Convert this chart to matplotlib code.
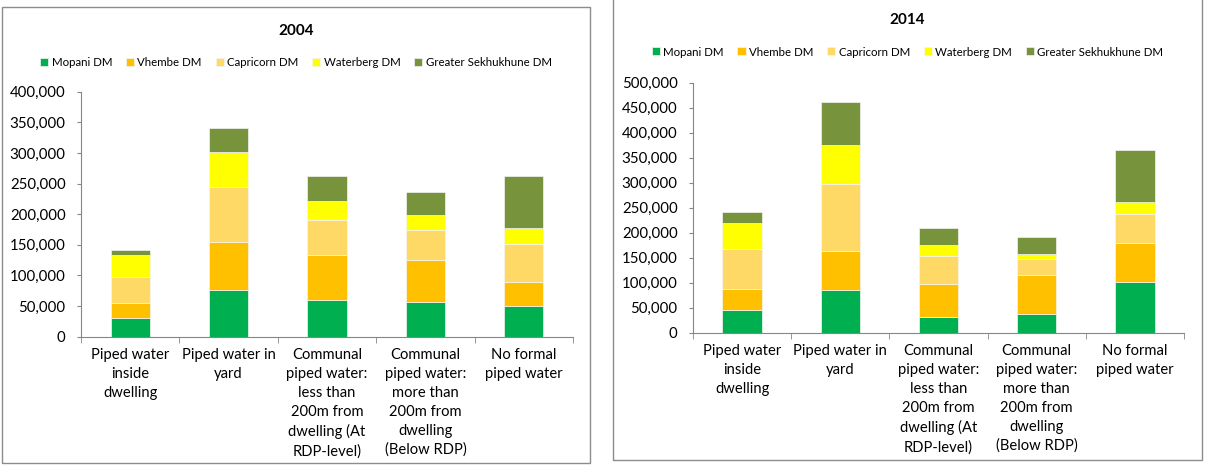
import matplotlib
matplotlib.use("Agg")
import matplotlib.pyplot as plt
from matplotlib.patches import Rectangle
import numpy as np

# categories along x
categories = [
    "Piped water\ninside\ndwelling",
    "Piped water in\nyard",
    "Communal\npiped water:\nless than\n200m from\ndwelling (At\nRDP-level)",
    "Communal\npiped water:\nmore than\n200m from\ndwelling\n(Below RDP)",
    "No formal\npiped water",
]
districts = ["Mopani DM", "Vhembe DM", "Capricorn DM", "Waterberg DM", "Greater Sekhukhune DM"]
colors = ["#00B050", "#FFC000", "#FFD966", "#FFFF00", "#77933C"]

# 2004 households per district
mopani_2004 = [31000, 76200, 59300, 56600, 49500]
vhembe_2004 = [24500, 78900, 73500, 69100, 40300]
capricorn_2004 = [41900, 89200, 57100, 47900, 62000]
waterberg_2004 = [35400, 57700, 31000, 25000, 25600]
sekhukhune_2004 = [8700, 38100, 41400, 37600, 84900]

# 2014
mopani_2014 = [45400, 85500, 31400, 37400, 101500]
vhembe_2014 = [42100, 78100, 66100, 77400, 78100]
capricorn_2014 = [79400, 134100, 56700, 32100, 57400]
waterberg_2014 = [52700, 77500, 20700, 11300, 25400]
sekhukhune_2014 = [22100, 86100, 34100, 34100, 102100]

W, H = 1205, 465
plt.rcParams['font.family'] = ['Lato', 'DejaVu Sans']


def box(x0, y0, x1, y1):
    # pixel box (top-left origin) -> figure fraction rect
    return [x0 / W, 1 - y1 / H, (x1 - x0) / W, (y1 - y0) / H]


def draw_panel(fig, series, title, panel, axbox, ymax, ystep, title_y, legend_y):
    px0, py0, px1, py1 = panel
    fig.patches.append(Rectangle((px0 / W, 1 - py1 / H), (px1 - px0) / W, (py1 - py0) / H,
                                 transform=fig.transFigure, fill=False,
                                 edgecolor="#8c8c8c", linewidth=1.0))
    cx = (px0 + px1) / 2 / W
    fig.text(cx, 1 - title_y / H, title, ha="center", va="center",
             fontsize=11, fontweight="bold")

    ax = fig.add_axes(box(*axbox))
    x = np.arange(len(categories))
    bottom = np.zeros(len(categories))
    handles = []
    for name, vals, c in zip(districts, series, colors):
        b = ax.bar(x, vals, 0.4, bottom=bottom, color=c, edgecolor="#f4f4f4",
                   linewidth=0.5, label=name)
        handles.append(b)
        bottom += np.array(vals)

    ax.set_xlim(-0.5, len(categories) - 0.5)
    ax.set_ylim(0, ymax)
    ax.set_yticks(np.arange(0, ymax + 1, ystep))
    ax.set_yticklabels([f"{v:,}" for v in np.arange(0, ymax + 1, ystep)], fontsize=10.8)
    ax.set_xticks(x)
    ax.set_xticklabels(categories, fontsize=10.6, linespacing=1.45)
    ax.set_xticks(np.arange(-0.5, len(categories)), minor=True)
    ax.tick_params(axis="x", which="major", length=0, pad=8)
    ax.tick_params(axis="x", which="minor", length=4, color="#868686", direction="out")
    ax.tick_params(axis="y", length=3, color="#868686", pad=8)
    for s in ["top", "right"]:
        ax.spines[s].set_visible(False)
    for s in ["left", "bottom"]:
        ax.spines[s].set_color("#868686")

    fig.legend(handles, districts, loc="center", ncol=5, frameon=False,
               bbox_to_anchor=(cx, 1 - legend_y / H), fontsize=8.3,
               handlelength=0.7, handleheight=0.7, handletextpad=0.3,
               columnspacing=1.2, borderaxespad=0)
    return ax


fig = plt.figure(figsize=(W / 100, H / 100), dpi=100)

draw_panel(fig, [mopani_2004, vhembe_2004, capricorn_2004, waterberg_2004, sekhukhune_2004],
           "2004", (2, 7, 590, 463), (81, 91.7, 573, 336.7), 400000, 50000, 31, 63)
draw_panel(fig, [mopani_2014, vhembe_2014, capricorn_2014, waterberg_2014, sekhukhune_2014],
           "2014", (613, -2, 1202, 460), (693, 82.7, 1184, 332.7), 500000, 50000, 20, 52)

fig.savefig("out.png", dpi=100)
